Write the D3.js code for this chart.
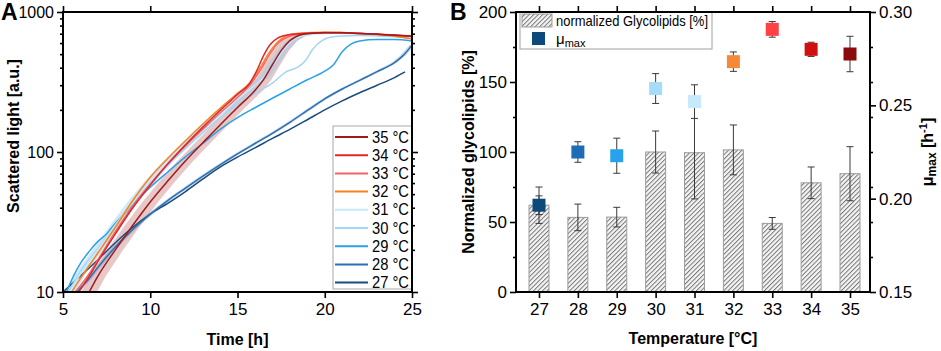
<!DOCTYPE html>
<html lang="en">
<head>
<meta charset="UTF-8" />
<title>Growth curves and glycolipids vs temperature</title>
<script src="https://d3js.org/d3.v7.min.js"></script>
<style>
  body { margin: 0; background: #fff; }
  svg { font-family: "Liberation Sans", Arial, sans-serif; }
  .ax path { display: none; }
  .ax line { stroke: #000; stroke-width: 1.6; }
</style>
</head>
<body>
<svg id="fig" width="941" height="351"></svg>
<script>
// ---- panel A: scattered light curves, [time h, a.u.] ----
const curveTemps = [35, 34, 33, 32, 31, 30, 29, 28, 27];
const lineColors = ["#9e1b1e", "#e3262b", "#f56464", "#f7821e", "#c9e8f8", "#a3d6f3", "#2ba2e8", "#2c70b1", "#1a4b7b"];
const c35 = [[6.5,10],[7,13],[8,20],[9,30],[10,44],[11,62],[12,86],[13,116],[14,156],[15,208],[16,275],[16.5,330],[17,420],[17.5,530],[18,625],[18.5,680],[19,700],[20,712],[21,712],[22,703],[23,693],[24,683],[25,672]];
const c34 = [[5.9,10],[6.5,13],[7,16.5],[8,26],[9,40],[10,58],[11,82],[12,112],[13,150],[14,198],[15,258],[15.7,310],[16.1,380],[16.5,490],[16.9,590],[17.3,650],[18,690],[19,705],[20,715],[21,715],[22,705],[23,695],[24,685],[25,675]];
const c33 = [[5.7,10],[6.5,13.5],[7,17],[8,27],[9,41],[10,59],[11,82],[12,110],[13,145],[14,190],[15,245],[15.8,310],[16.4,400],[16.9,510],[17.4,610],[17.9,665],[18.6,695],[20,712],[22,702],[24,682],[25,670]];
const c32 = [[5.5,10],[6,12.5],[7,19],[8,29],[9,45],[10,66],[11,90],[12,120],[13,158],[14,205],[15,262],[15.8,320],[16.3,400],[16.8,510],[17.3,610],[17.8,675],[18.5,705],[20,718],[21,712],[22,702],[23,690],[24,670],[25,640]];
const c31 = [[5.4,10],[6,13.5],[7,20],[8,30],[9,44],[10,62],[11,85],[12,112],[13,146],[14,188],[15,238],[16,300],[16.6,350],[17.1,430],[17.6,530],[18.1,620],[18.6,670],[19.5,700],[20.5,705],[22,695],[24,675],[25,660]];
const c30 = [[5.3,10],[6,14],[7,20.5],[8,30],[9,43],[10,60],[11,81],[12,106],[13,137],[14,175],[15,218],[16,262],[17,310],[17.8,375],[18.4,400],[18.9,450],[19.3,540],[19.8,620],[20.3,660],[21,675],[22,680],[23,675],[24,665],[25,650]];
const c29 = [[5.2,10],[5.6,13],[6,16],[6.5,19.5],[7,23],[7.5,26],[8,31],[8.5,36],[9,42],[9.5,49],[10,56],[11,72],[12,92],[13,115],[14,145],[15,176],[16,207],[17,242],[18,282],[19,328],[20,378],[20.5,420],[21,520],[21.5,590],[22,620],[23,635],[24,635],[25,620]];
const c28 = [[5.8,10],[6.5,12.5],[7,15],[8,21],[9,28],[10,36],[11,45],[12,55],[13,67],[14,81],[15,97],[16,115],[17,136],[18,163],[19,198],[20,240],[21,282],[22,325],[23,375],[24,435],[24.5,490],[25,580]];
const c27 = [[5,10],[6,13],[7,17],[8,22.5],[9,29],[10,36],[11,43],[12,52],[13,64],[14,78],[15,92],[16,107],[17,125],[18,145],[19,170],[20,200],[21,232],[22,265],[23,300],[24,340],[24.6,373]];
const curves = [c35, c34, c33, c32, c31, c30, c29, c28, c27];
// shaded spread (hours) shown for a few curves
const bandTemps = [35, 31, 28];
const bandShift = [0.45, 0.3, 0.15];
const bandColors = ["rgba(190,95,95,0.35)", "rgba(150,205,238,0.45)", "rgba(70,130,190,0.3)"];

// ---- panel B: glycolipids and growth rate ----
const temps = [27, 28, 29, 30, 31, 32, 33, 34, 35];
const glyco = [62, 53.3, 53.5, 100, 99.5, 101.5, 49, 78, 84.5];
const glycoErr = [13, 9.5, 7, 15, 33, 17.8, 4.2, 11.3, 19.3];
const muMax = [0.1965, 0.225, 0.223, 0.259, 0.252, 0.2734, 0.2907, 0.280, 0.2775];
const muErr = [0.005, 0.0055, 0.0094, 0.008, 0.009, 0.0052, 0.0042, 0.0038, 0.0095];
const muColors = ["#0d4a7c", "#1c6db3", "#27a3ee", "#a6dcf8", "#c6e9fb", "#f5893a", "#ff4146", "#d0100f", "#8a0b0b"];

const svg = d3.select("#fig");
const defs = svg.append("defs");

// ================= panel A =================
const A = { left: 63, right: 412, top: 12, bottom: 292 };
const xA = d3.scaleLinear().domain([5, 25]).range([A.left, A.right]);
const yA = d3.scaleLog().domain([10, 1000]).range([A.bottom, A.top]);

defs.append("clipPath").attr("id", "clipA")
  .append("rect").attr("x", A.left).attr("y", A.top)
  .attr("width", A.right - A.left).attr("height", A.bottom - A.top);

const gA = svg.append("g").attr("clip-path", "url(#clipA)");

// spread bands
bandTemps.forEach((t, i) => {
  const pts = curves[curveTemps.indexOf(t)];
  const s = bandShift[i];
  const poly = pts.map(d => [xA(d[0] - s), yA(d[1])])
    .concat(pts.slice().reverse().map(d => [xA(d[0] + s), yA(d[1])]));
  gA.append("path")
    .attr("d", d3.line().curve(d3.curveLinear)(poly) + "Z")
    .attr("fill", bandColors[i]);
});

const lineA = d3.line().x(d => xA(d[0])).y(d => yA(d[1])).curve(d3.curveMonotoneX);
// draw coolest first so warm curves sit on top
for (let i = curves.length - 1; i >= 0; i--) {
  gA.append("path").attr("d", lineA(curves[i]))
    .attr("fill", "none").attr("stroke", lineColors[i]).attr("stroke-width", 1.5);
}

// axes A
const majA = [10, 100, 1000];
const minA = [20,30,40,50,60,70,80,90,200,300,400,500,600,700,800,900];
svg.append("g").attr("class", "ax").attr("transform", `translate(${A.left},0)`)
  .call(d3.axisLeft(yA).tickValues(minA).tickSize(3).tickFormat(""));
svg.append("g").attr("class", "ax").attr("transform", `translate(${A.right},0)`)
  .call(d3.axisRight(yA).tickValues(minA).tickSize(3).tickFormat(""));
svg.append("g").attr("class", "ax").attr("transform", `translate(${A.right},0)`)
  .call(d3.axisRight(yA).tickValues(majA).tickSize(6).tickFormat(""));
svg.append("g").attr("class", "ax").attr("transform", `translate(${A.left},0)`)
  .call(d3.axisLeft(yA).tickValues(majA).tickSize(6).tickPadding(3).tickFormat(d3.format("d")))
  .selectAll("text").attr("font-size", 16).attr("fill", "#000");
svg.append("g").attr("class", "ax").attr("transform", `translate(0,${A.bottom})`)
  .call(d3.axisBottom(xA).tickValues([5,10,15,20,25]).tickSize(6).tickPadding(5))
  .selectAll("text").attr("font-size", 17).attr("fill", "#000");
svg.append("g").attr("class", "ax").attr("transform", `translate(0,${A.top})`)
  .call(d3.axisTop(xA).tickValues([5,10,15,20,25]).tickSize(6).tickFormat(""));

// legend A
const legA = svg.append("g");
legA.append("rect").attr("x", 333).attr("y", 126).attr("width", A.right - 333).attr("height", 163)
  .attr("fill", "#fff").attr("stroke", "#a8a8a8").attr("stroke-width", 1);
curveTemps.forEach((t, i) => {
  const y = 137 + i * 18.2;
  legA.append("line").attr("x1", 335).attr("x2", 368).attr("y1", y).attr("y2", y)
    .attr("stroke", lineColors[i]).attr("stroke-width", 2);
  legA.append("text").attr("x", 372).attr("y", y + 5.5).attr("font-size", 16)
    .attr("textLength", 37).attr("lengthAdjust", "spacingAndGlyphs").text(`${t} °C`);
});

svg.append("rect").attr("x", A.left).attr("y", A.top)
  .attr("width", A.right - A.left).attr("height", A.bottom - A.top)
  .attr("fill", "none").attr("stroke", "#000").attr("stroke-width", 2);

svg.append("text").attr("transform", `translate(19,136) rotate(-90)`)
  .attr("text-anchor", "middle").attr("font-size", 16).attr("font-weight", "bold")
  .text("Scattered light [a.u.]");
svg.append("text").attr("x", (A.left + A.right) / 2).attr("y", 345)
  .attr("text-anchor", "middle").attr("font-size", 16).attr("font-weight", "bold")
  .text("Time [h]");
svg.append("text").attr("x", 1).attr("y", 20).attr("font-size", 23).attr("font-weight", "bold").text("A");

// ================= panel B =================
const B = { left: 516, right: 870, top: 12, bottom: 292 };
const xB = d3.scalePoint().domain(temps).range([539, 850]);
const yB = d3.scaleLinear().domain([0, 200]).range([B.bottom, B.top]);
const yMu = d3.scaleLinear().domain([0.15, 0.30]).range([B.bottom, B.top]);

const hatch = defs.append("pattern").attr("id", "hatch")
  .attr("patternUnits", "userSpaceOnUse").attr("width", 3.2).attr("height", 3.2)
  .attr("patternTransform", "rotate(45)");
hatch.append("rect").attr("width", 3.2).attr("height", 3.2).attr("fill", "#f4f4f4");
hatch.append("line").attr("x1", 0.5).attr("x2", 0.5).attr("y1", 0).attr("y2", 3.2)
  .attr("stroke", "#6a6a6a").attr("stroke-width", 0.9);

const barW = 20;
const gB = svg.append("g");
gB.selectAll("rect.bar").data(temps).enter().append("rect").attr("class", "bar")
  .attr("x", d => xB(d) - barW / 2).attr("y", (d, i) => yB(glyco[i]))
  .attr("width", barW).attr("height", (d, i) => B.bottom - yB(glyco[i]))
  .attr("fill", "url(#hatch)").attr("stroke", "#9c9c9c").attr("stroke-width", 1);

function errBar(g, x, y0, y1) {
  g.append("line").attr("x1", x).attr("x2", x).attr("y1", y0).attr("y2", y1);
  g.append("line").attr("x1", x - 3.5).attr("x2", x + 3.5).attr("y1", y0).attr("y2", y0);
  g.append("line").attr("x1", x - 3.5).attr("x2", x + 3.5).attr("y1", y1).attr("y2", y1);
}
const gErr = gB.append("g").attr("stroke", "#3a3a3a").attr("stroke-width", 1);
temps.forEach((t, i) => {
  errBar(gErr, xB(t), yB(glyco[i] + glycoErr[i]), yB(glyco[i] - glycoErr[i]));
  errBar(gErr, xB(t), yMu(muMax[i] + muErr[i]), yMu(muMax[i] - muErr[i]));
});
const sq = 13;
gB.selectAll("rect.mu").data(temps).enter().append("rect").attr("class", "mu")
  .attr("x", d => xB(d) - sq / 2).attr("y", (d, i) => yMu(muMax[i]) - sq / 2)
  .attr("width", sq).attr("height", sq).attr("fill", (d, i) => muColors[i]);

// axes B
svg.append("g").attr("class", "ax").attr("transform", `translate(${B.left},0)`)
  .call(d3.axisLeft(yB).tickValues([25, 75, 125, 175]).tickSize(3).tickFormat(""));
svg.append("g").attr("class", "ax").attr("transform", `translate(${B.left},0)`)
  .call(d3.axisLeft(yB).tickValues([0, 50, 100, 150, 200]).tickSize(6).tickPadding(3))
  .selectAll("text").attr("font-size", 17).attr("fill", "#000");
svg.append("g").attr("class", "ax").attr("transform", `translate(${B.right},0)`)
  .call(d3.axisRight(yB).tickValues([25, 50, 75, 100, 125, 150, 175]).tickSize(3).tickFormat(""));
svg.append("g").attr("class", "ax").attr("transform", `translate(${B.right},0)`)
  .call(d3.axisRight(yMu).tickValues([0.15, 0.20, 0.25, 0.30]).tickSize(6).tickPadding(3).tickFormat(d3.format(".2f")))
  .selectAll("text").attr("font-size", 17).attr("fill", "#000");
svg.append("g").attr("class", "ax").attr("transform", `translate(0,${B.bottom})`)
  .call(d3.axisBottom(xB).tickSize(6).tickPadding(5))
  .selectAll("text").attr("font-size", 17).attr("fill", "#000");
svg.append("g").attr("class", "ax").attr("transform", `translate(0,${B.top})`)
  .call(d3.axisTop(xB).tickSize(6).tickFormat(""));

// legend B
const legB = svg.append("g");
legB.append("rect").attr("x", 520).attr("y", B.top).attr("width", 192).attr("height", 37)
  .attr("fill", "#fff").attr("stroke", "#a0a0a0").attr("stroke-width", 1);
legB.append("rect").attr("x", 522).attr("y", 14).attr("width", 30).attr("height", 13)
  .attr("fill", "url(#hatch)").attr("stroke", "#9c9c9c");
legB.append("text").attr("x", 556).attr("y", 26).attr("font-size", 15)
  .attr("textLength", 152).attr("lengthAdjust", "spacingAndGlyphs").text("normalized Glycolipids [%]");
legB.append("rect").attr("x", 532).attr("y", 32).attr("width", 13).attr("height", 13).attr("fill", muColors[0]);
const muT = legB.append("text").attr("x", 556).attr("y", 44).attr("font-size", 15);
muT.append("tspan").text("μ");
muT.append("tspan").attr("font-size", 11).attr("dy", 3).text("max");

svg.append("rect").attr("x", B.left).attr("y", B.top)
  .attr("width", B.right - B.left).attr("height", B.bottom - B.top)
  .attr("fill", "none").attr("stroke", "#000").attr("stroke-width", 2);

svg.append("text").attr("transform", `translate(474,152) rotate(-90)`)
  .attr("text-anchor", "middle").attr("font-size", 16).attr("font-weight", "bold")
  .text("Normalized glycolipids [%]");
svg.append("text").attr("x", (B.left + B.right) / 2).attr("y", 344)
  .attr("text-anchor", "middle").attr("font-size", 16).attr("font-weight", "bold")
  .text("Temperature [°C]");
const rt = svg.append("text").attr("transform", `translate(933,152) rotate(-90)`)
  .attr("text-anchor", "middle").attr("font-size", 16).attr("font-weight", "bold");
rt.append("tspan").text("μ");
rt.append("tspan").attr("font-size", 12).attr("dy", 3).text("max");
rt.append("tspan").attr("dy", -3).text(" [h");
rt.append("tspan").attr("font-size", 11).attr("dy", -6).text("-1");
rt.append("tspan").attr("dy", 6).text("]");
svg.append("text").attr("x", 450).attr("y", 20).attr("font-size", 23).attr("font-weight", "bold").text("B");
</script>
</body>
</html>
